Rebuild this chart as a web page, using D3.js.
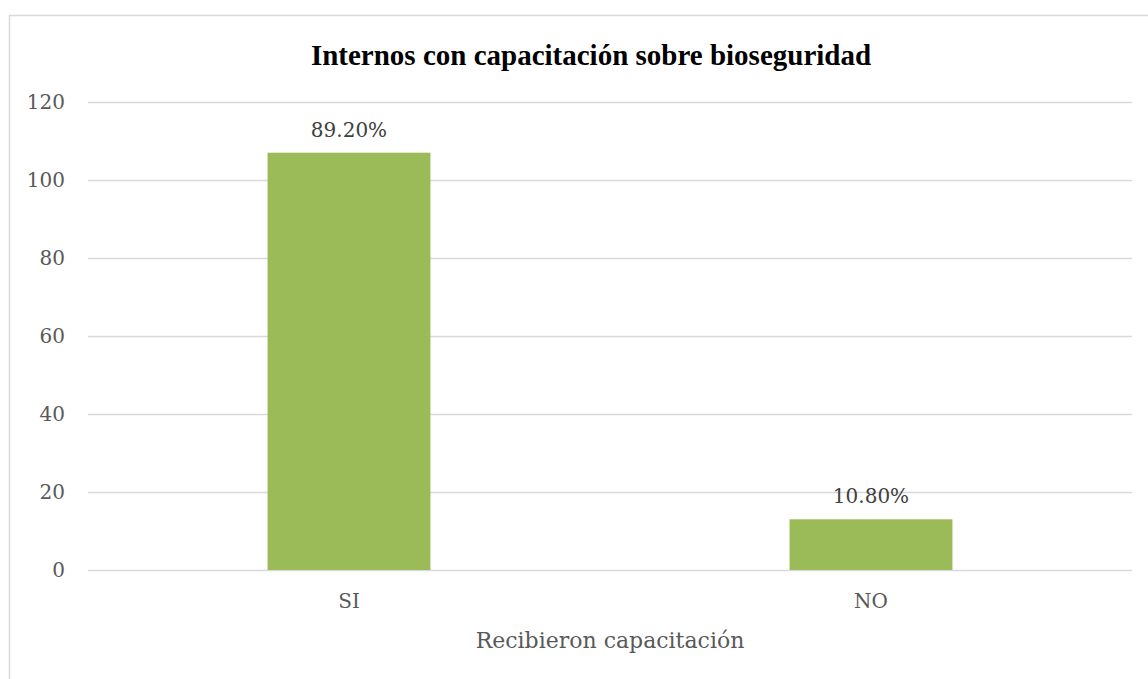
<!DOCTYPE html>
<html>
<head>
<meta charset="utf-8">
<script src="https://cdn.jsdelivr.net/npm/d3@7"></script>
<style>
  body { margin: 0; background: #fff; }
  svg { display: block; }
</style>
</head>
<body>
<svg id="chart"></svg>
<script>
/* données */
const categories = ['SI', 'NO']
const values = [107, 13]
const valueLabels = ['89.20%', '10.80%']
const yTicks = [0, 20, 40, 60, 80, 100, 120]

const chartTitle = 'Internos con capacitación sobre bioseguridad'
const xTitle = 'Recibieron capacitación'

const width = 1148, height = 679
const margin = {top: 102, right: 16, bottom: 109, left: 88}

const svg = d3.select('#chart')
  .attr('width', width)
  .attr('height', height)

/* cadre du graphique */
svg.append('rect')
  .attr('x', 9.5)
  .attr('y', 15.5)
  .attr('width', 1160)
  .attr('height', 700)
  .attr('fill', '#fff')
  .attr('stroke', '#d9d9d9')
  .attr('stroke-width', 1.5)

const x = d3.scaleBand()
  .domain(categories)
  .range([margin.left, width - margin.right])
  .paddingInner(0.688)
  .paddingOuter(0.344)

const y = d3.scaleLinear()
  .domain([0, 120])
  .range([height - margin.bottom, margin.top])

/* axe Y + grille */
const yAxis = d3.axisLeft(y)
  .tickValues(yTicks)
  .tickSize(-(width - margin.left - margin.right))
  .tickPadding(23)

svg.append('g')
  .attr('transform', `translate(${margin.left},0)`)
  .call(yAxis)
  .call(g => g.select('.domain').remove())
  .call(g => g.selectAll('line').attr('stroke', '#d9d9d9').attr('stroke-width', 1.5))
  .call(g => g.selectAll('text')
    .attr('fill', '#595959')
    .style('font-family', '"DejaVu Serif", serif')
    .style('font-size', '20px'))

/* barres */
svg.append('g')
  .selectAll('rect')
  .data(values)
  .enter()
  .append('rect')
  .attr('x', (d, i) => x(categories[i]))
  .attr('y', d => y(d))
  .attr('width', x.bandwidth())
  .attr('height', d => y(0) - y(d))
  .attr('fill', '#9bbb59')

/* étiquettes de valeurs */
svg.append('g')
  .selectAll('text')
  .data(values)
  .enter()
  .append('text')
  .attr('x', (d, i) => x(categories[i]) + x.bandwidth() / 2)
  .attr('y', d => y(d) - 16)
  .attr('text-anchor', 'middle')
  .attr('fill', '#404040')
  .style('font-family', '"DejaVu Serif", serif')
  .style('font-size', '20px')
  .text((d, i) => valueLabels[i])

/* axe X */
const xAxis = d3.axisBottom(x).tickSize(0).tickPadding(24)

svg.append('g')
  .attr('transform', `translate(0,${y(0)})`)
  .call(xAxis)
  .call(g => g.select('.domain').remove())
  .call(g => g.selectAll('text')
    .attr('fill', '#595959')
    .style('font-family', '"DejaVu Serif", serif')
    .style('font-size', '20px'))

/* titres */
svg.append('text')
  .attr('x', 591)
  .attr('y', 65)
  .attr('text-anchor', 'middle')
  .attr('fill', '#000')
  .style('font-family', '"Liberation Serif", serif')
  .style('font-weight', 'bold')
  .style('font-size', '29px')
  .text(chartTitle)

svg.append('text')
  .attr('x', 610)
  .attr('y', 648)
  .attr('text-anchor', 'middle')
  .attr('fill', '#595959')
  .style('font-family', '"DejaVu Serif", serif')
  .style('font-size', '22px')
  .text(xTitle)
</script>
</body>
</html>
